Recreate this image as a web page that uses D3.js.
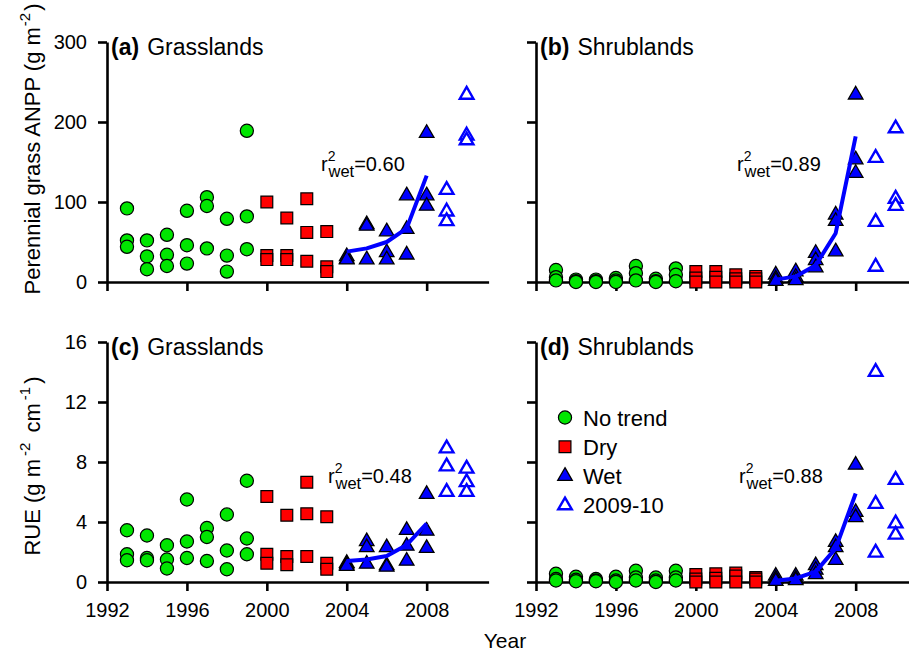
<!DOCTYPE html>
<html><head><meta charset="utf-8">
<script src="https://cdn.jsdelivr.net/npm/d3@7"></script>
<style>
html,body{margin:0;padding:0;background:#fff;}
svg{display:block;font-family:"Liberation Sans",Arial,sans-serif;}
</style></head>
<body>
<svg id="chart" width="909" height="653"></svg>
<script>
// ---------------- DATA ----------------
const xTicks = [1992, 1996, 2000, 2004, 2008];
const anppTicks = [0, 100, 200, 300];
const rueTicks = [0, 4, 8, 12, 16];

const noTrendYears = [1993, 1994, 1995, 1996, 1997, 1998, 1999];
const dryYears = [2000, 2001, 2002, 2003];
const wetYears = [2004, 2005, 2006, 2007, 2008];
const openYears = [2009, 2010];

// (a) Grasslands ANPP
const grassANPP_noTrend = [[92,52,44],[52,32,16],[59,34,20],[89,46,23],[106,95,42],[79,33,13],[189,82,41]];
const grassANPP_dry = [[100,33,28],[80,33,28],[104,62,26],[63,19,13]];
const grassANPP_wet = [[32,29,28],[72,70,28],[63,37,28],[108,66,34],[186,108,95]];
const grassANPP_open = [[115,88,76],[234,183,177]];
const grassANPP_fit = [38,42,50,67,133];

// (b) Shrublands ANPP
const shrubANPP_noTrend = [[15,6,2],[3,1,0],[3,1,0],[5,2,0],[20,11,2],[4,1,0],[17,9,1]];
const shrubANPP_dry = [[13,5,0],[13,6,0],[9,4,0],[7,4,0]];
const shrubANPP_wet = [[9,4,1],[13,6,2],[36,27,18],[84,76,38],[234,153,136]];
const shrubANPP_open = [[155,75,19],[192,104,95]];
const shrubANPP_fit = [3,7,21,61,182];

// (c) Grasslands RUE
const grassRUE_noTrend = [[3.45,1.85,1.45],[3.1,1.6,1.45],[2.45,1.5,0.9],[5.5,2.7,1.6],[3.6,3.0,1.4],[4.5,2.1,0.85],[6.75,2.9,1.85]];
const grassRUE_dry = [[5.7,1.85,1.25],[4.45,1.7,1.15],[6.65,4.55,1.7],[4.35,1.25,0.85]];
const grassRUE_wet = [[1.25,1.15,1.05],[2.7,2.3,1.2],[2.3,1.1,1.0],[3.45,2.4,1.4],[5.85,3.4,2.25]];
const grassRUE_open = [[8.9,7.7,6.0],[7.55,6.65,6.0]];
const grassRUE_fit = [1.4,1.5,1.73,2.47,3.9];

// (d) Shrublands RUE
const shrubRUE_noTrend = [[0.55,0.2,0.1],[0.35,0.15,0.05],[0.2,0.1,0.05],[0.35,0.1,0.0],[0.75,0.3,0.1],[0.3,0.1,0.0],[0.75,0.3,0.1]];
const shrubRUE_dry = [[0.5,0.2,0.0],[0.55,0.25,0.0],[0.6,0.4,0.0],[0.3,0.2,0.0]];
const shrubRUE_wet = [[0.4,0.2,0.05],[0.4,0.2,0.1],[1.1,0.8,0.5],[2.65,2.3,1.45],[7.8,4.65,4.3]];
const shrubRUE_open = [[14.0,5.2,1.95],[6.8,3.9,3.15]];
const shrubRUE_fit = [0.09,0.24,0.69,2.24,5.9];

const legendLabels = ["No trend", "Dry", "Wet", "2009-10"];

// ---------------- STYLE ----------------
const GREEN = "#00e600", RED = "#ff0000", BLUE = "#0000ff";
const FONT = '"Liberation Sans", Arial, sans-serif';

const svg = d3.select("#chart");

function flat(years, vals) {
  const out = [];
  years.forEach((y, i) => vals[i].forEach(v => out.push({x: y, y: v})));
  return out;
}

const triPath = d3.symbol(d3.symbolTriangle).size(92)();
const sqPath = d3.symbol(d3.symbolSquare).size(140)();

function drawMarkers(g, data, type, x, y) {
  const sel = g.append("g").selectAll("path").data(data).join("path")
    .attr("transform", d => `translate(${x(d.x)},${y(d.y)})`);
  if (type === "circle") sel.attr("d", d3.symbol(d3.symbolCircle).size(136)()).attr("fill", GREEN).attr("stroke", "#000").attr("stroke-width", 1.2);
  if (type === "square") sel.attr("d", sqPath).attr("fill", RED).attr("stroke", "#000").attr("stroke-width", 1.2);
  if (type === "wet") sel.attr("d", triPath).attr("fill", BLUE).attr("stroke", "#000").attr("stroke-width", 1.3);
  if (type === "open") sel.attr("d", d3.symbol(d3.symbolTriangle).size(80)()).attr("fill", "#fff").attr("stroke", BLUE).attr("stroke-width", 2.4);
}

function drawPanel(cfg) {
  const x = d3.scaleLinear().domain([1992, 2011.1]).range([cfg.x0, cfg.x0 + 381.6]);
  const y = d3.scaleLinear().domain([0, cfg.ymax]).range([cfg.yBase, cfg.yBase - 240]);
  const g = svg.append("g");

  const xa = d3.axisBottom(x).tickValues(xTicks).tickSizeInner(9).tickSizeOuter(0).tickPadding(12)
    .tickFormat(cfg.xLabels ? d3.format("d") : () => "");
  const ya = d3.axisLeft(y).tickValues(cfg.yTicks).tickSizeInner(9).tickSizeOuter(0).tickPadding(11)
    .tickFormat(cfg.yLabels ? d3.format("d") : () => "");

  const gx = g.append("g").attr("transform", `translate(0,${cfg.yBase})`).call(xa);
  const gy = g.append("g").attr("transform", `translate(${cfg.x0},0)`).call(ya);
  [gx, gy].forEach(a => {
    a.select(".domain").attr("stroke", "#000").attr("stroke-width", 2.6);
    a.selectAll(".tick line").attr("stroke", "#000").attr("stroke-width", 2.6);
    a.selectAll(".tick text").attr("font-family", FONT).attr("font-size", 20).attr("fill", "#000");
  });

  drawMarkers(g, flat(noTrendYears, cfg.noTrend), "circle", x, y);
  drawMarkers(g, flat(dryYears, cfg.dry), "square", x, y);
  drawMarkers(g, flat(wetYears, cfg.wet), "wet", x, y);
  drawMarkers(g, flat(openYears, cfg.open), "open", x, y);

  g.append("path").datum(wetYears.map((yr, i) => ({x: yr, y: cfg.fit[i]})))
    .attr("fill", "none").attr("stroke", BLUE).attr("stroke-width", 4).attr("stroke-linejoin", "round")
    .attr("d", d3.line().x(d => x(d.x)).y(d => y(d.y)));

  // title
  const t = g.append("text").attr("x", cfg.x0 + 4).attr("y", cfg.yBase - 227)
    .attr("font-family", FONT).attr("font-size", 23).attr("fill", "#000");
  t.append("tspan").attr("font-weight", "bold").text(cfg.letter);
  t.append("tspan").attr("dx", 8).text(cfg.title);

  // r2 label
  const r = g.append("text").attr("x", cfg.rx).attr("y", cfg.ry)
    .attr("font-family", FONT).attr("font-size", 20).attr("fill", "#000");
  r.append("tspan").text("r");
  r.append("tspan").attr("font-size", 14).attr("dy", -10).text("2");
  r.append("tspan").attr("font-size", 16.5).attr("dx", -7).attr("dy", 16).text("wet");
  r.append("tspan").attr("dy", -6).text("=" + cfg.r2);
  return {x, y};
}

drawPanel({x0: 107, yBase: 282, ymax: 300, yTicks: anppTicks, xLabels: false, yLabels: true,
  noTrend: grassANPP_noTrend, dry: grassANPP_dry, wet: grassANPP_wet, open: grassANPP_open, fit: grassANPP_fit,
  letter: "(a)", title: "Grasslands", rx: 321, ry: 171, r2: "0.60"});
drawPanel({x0: 536, yBase: 282, ymax: 300, yTicks: anppTicks, xLabels: false, yLabels: false,
  noTrend: shrubANPP_noTrend, dry: shrubANPP_dry, wet: shrubANPP_wet, open: shrubANPP_open, fit: shrubANPP_fit,
  letter: "(b)", title: "Shrublands", rx: 737, ry: 171, r2: "0.89"});
drawPanel({x0: 107, yBase: 582, ymax: 16, yTicks: rueTicks, xLabels: true, yLabels: true,
  noTrend: grassRUE_noTrend, dry: grassRUE_dry, wet: grassRUE_wet, open: grassRUE_open, fit: grassRUE_fit,
  letter: "(c)", title: "Grasslands", rx: 328, ry: 483, r2: "0.48"});
drawPanel({x0: 536, yBase: 582, ymax: 16, yTicks: rueTicks, xLabels: true, yLabels: false,
  noTrend: shrubRUE_noTrend, dry: shrubRUE_dry, wet: shrubRUE_wet, open: shrubRUE_open, fit: shrubRUE_fit,
  letter: "(d)", title: "Shrublands", rx: 739, ry: 483, r2: "0.88"});

// legend
const lg = svg.append("g");
const legTypes = ["circle", "square", "wet", "open"];
legendLabels.forEach((lab, i) => {
  const cy = 417.5 + i * 29.3;
  const fx = d3.scaleLinear().domain([0, 1]).range([565, 566]);
  const fy = d3.scaleLinear().domain([0, 1]).range([cy, cy + 1]);
  drawMarkers(lg, [{x: 0, y: 0}], legTypes[i], fx, fy);
  lg.append("text").attr("x", 583).attr("y", cy + 8).attr("font-family", FONT).attr("font-size", 22).text(lab);
});

// axis titles
svg.append("text").attr("x", 505).attr("y", 648).attr("text-anchor", "middle")
  .attr("font-family", FONT).attr("font-size", 21).text("Year");

const yl1 = svg.append("text").attr("transform", "translate(40,149) rotate(-90)").attr("text-anchor", "middle")
  .attr("font-family", FONT).attr("font-size", 22);
yl1.append("tspan").text("Perennial grass ANPP (g m");
yl1.append("tspan").attr("font-size", 15).attr("dx", 1).attr("dy", -10).text("-2");
yl1.append("tspan").attr("dx", 2).attr("dy", 10).text(")");

const yl2 = svg.append("text").attr("transform", "translate(40,466) rotate(-90)").attr("text-anchor", "middle")
  .attr("font-family", FONT).attr("font-size", 22);
yl2.append("tspan").text("RUE (g m");
yl2.append("tspan").attr("font-size", 15).attr("dx", 3).attr("dy", -10).text("-2");
yl2.append("tspan").attr("dx", 4).attr("dy", 10).text(" cm");
yl2.append("tspan").attr("font-size", 15).attr("dx", 3).attr("dy", -10).text("-1");
yl2.append("tspan").attr("dx", 3).attr("dy", 10).text(")");
</script>
</body></html>
